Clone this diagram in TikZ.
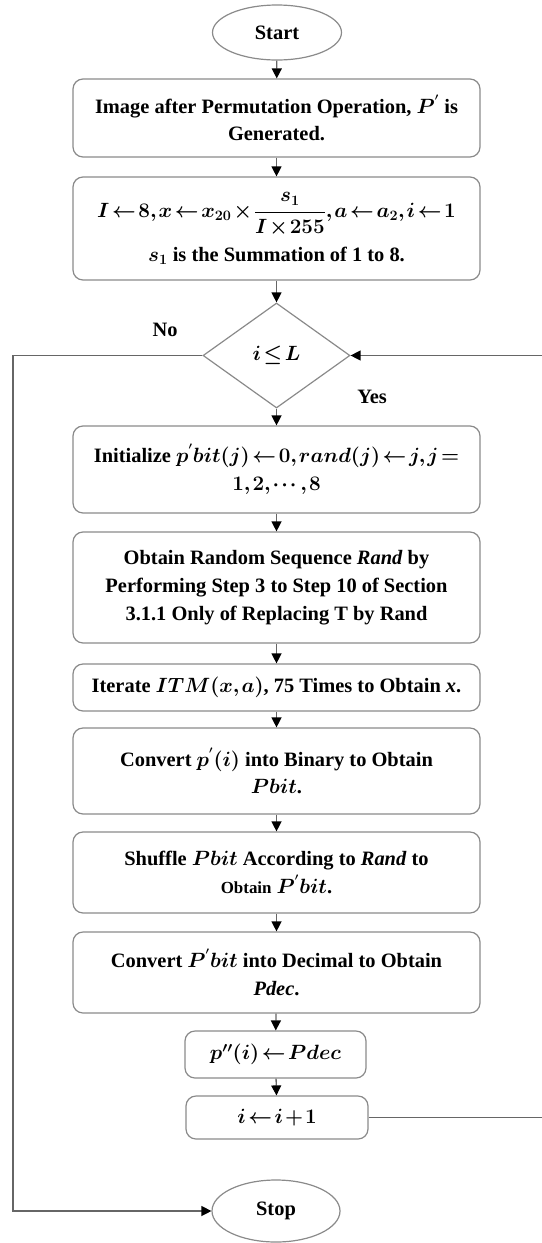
\documentclass[tikz,border=0pt]{standalone}
\usepackage{amsmath}
\usepackage{fontspec}
\setmainfont{Liberation Serif}
\usetikzlibrary{shapes.geometric,arrows.meta}
\definecolor{boxline}{HTML}{8A8A8A}
\definecolor{flowline}{HTML}{666666}
\newcommand{\tightmath}{\thickmuskip=2mu plus 1mu\medmuskip=1.5mu plus 1mu\thinmuskip=1.5mu}
\begin{document}
\begin{tikzpicture}[x=1bp,y=-1bp,
  every node/.style={font=\fontsize{20.5}{28}\selectfont\bfseries\boldmath\tightmath, align=center, inner sep=0pt},
  proc/.style={draw=boxline, line width=1.2bp, rounded corners=10bp, minimum width=407bp},
  term/.style={draw=boxline, line width=1.2bp, ellipse, minimum width=129bp, minimum height=55bp},
  cond/.style={draw=boxline, line width=1.2bp, diamond, minimum width=147bp, minimum height=105bp},
  flow/.style={draw=flowline, line width=1.3bp, -{Triangle[length=10bp,width=10bp,fill=black,color=black]}}]
\useasboundingbox (0,0) rectangle (542,1243);

\node[term] (start) at (277,32.5) {Start};
\node[proc, minimum height=78bp] (b1) at (276.5,118)
  {Image after Permutation Operation, $P^{'}$ is\\ Generated.};
\node[proc, minimum height=103bp] (b2) at (276.5,228.5)
  {$I \leftarrow 8, x \leftarrow x_{20} \times \dfrac{s_1}{I\times 255}, a \leftarrow a_2, i \leftarrow 1$\\[10bp]
   $s_1$ is the Summation of 1 to 8.};
\node[cond] (dec) at (276.5,355.5) {$i \leq L$};
\node[proc, minimum height=87bp] (b3) at (276.5,469.5)
  {Initialize $p^{'}bit(j) \leftarrow 0, rand(j) \leftarrow j, j =$\\ $1,2,\cdots,8$};
\node[proc, minimum height=111bp] (b4) at (276.5,587.5)
  {Obtain Random Sequence \textit{Rand} by\\ Performing Step 3 to Step 10 of Section\\ 3.1.1 Only of Replacing T by Rand};
\node[proc, minimum height=47bp] (b5) at (276.5,687.5)
  {Iterate $ITM(x,a)$, 75 Times to Obtain \textit{x}.};
\node[proc, minimum height=86bp] (b6) at (276.5,771)
  {Convert $p^{'}(i)$ into Binary to Obtain\\ $Pbit$.};
\node[proc, minimum height=81bp] (b7) at (276.5,872.5)
  {Shuffle $Pbit$ According to \textit{Rand} to\\ {\fontsize{17}{28}\selectfont Obtain} $P^{'}bit$.};
\node[proc, minimum height=81bp] (b8) at (276.5,972.5)
  {Convert $P^{'}bit$ into Decimal to Obtain\\ \textit{Pdec}.};
\node[proc, minimum width=181bp, minimum height=47bp] (b9) at (275.5,1054.5)
  {$p''(i) \leftarrow Pdec$};
\node[proc, minimum width=182bp, minimum height=43bp] (b10) at (277,1117.5)
  {$i \leftarrow i+1$};
\node[term, minimum width=128bp, minimum height=62bp] (stop) at (276,1211) {Stop};

\node (no) at (165,330) {No};
\node (yes) at (372,397) {Yes};

\coordinate (lft) at (13,0);
\coordinate (rgt) at (545,0);

\draw[flow] (start) -- (b1);
\draw[flow] (b1) -- (b2);
\draw[flow] (b2) -- (dec);
\draw[flow] (dec) -- (b3);
\draw[flow] (b3) -- (b4);
\draw[flow] (b4) -- (b5);
\draw[flow] (b5) -- (b6);
\draw[flow] (b6) -- (b7);
\draw[flow] (b7) -- (b8);
\draw[flow] (b8) -- (b9);
\draw[flow] (b9) -- (b10);
\draw[flow] (dec.west) -- (dec.west -| lft) -- (stop.west -| lft) -- (stop.west);
\draw[flow] (b10.east) -- (b10.east -| rgt) -- (dec.east -| rgt) -- (dec.east);
\end{tikzpicture}
\end{document}
